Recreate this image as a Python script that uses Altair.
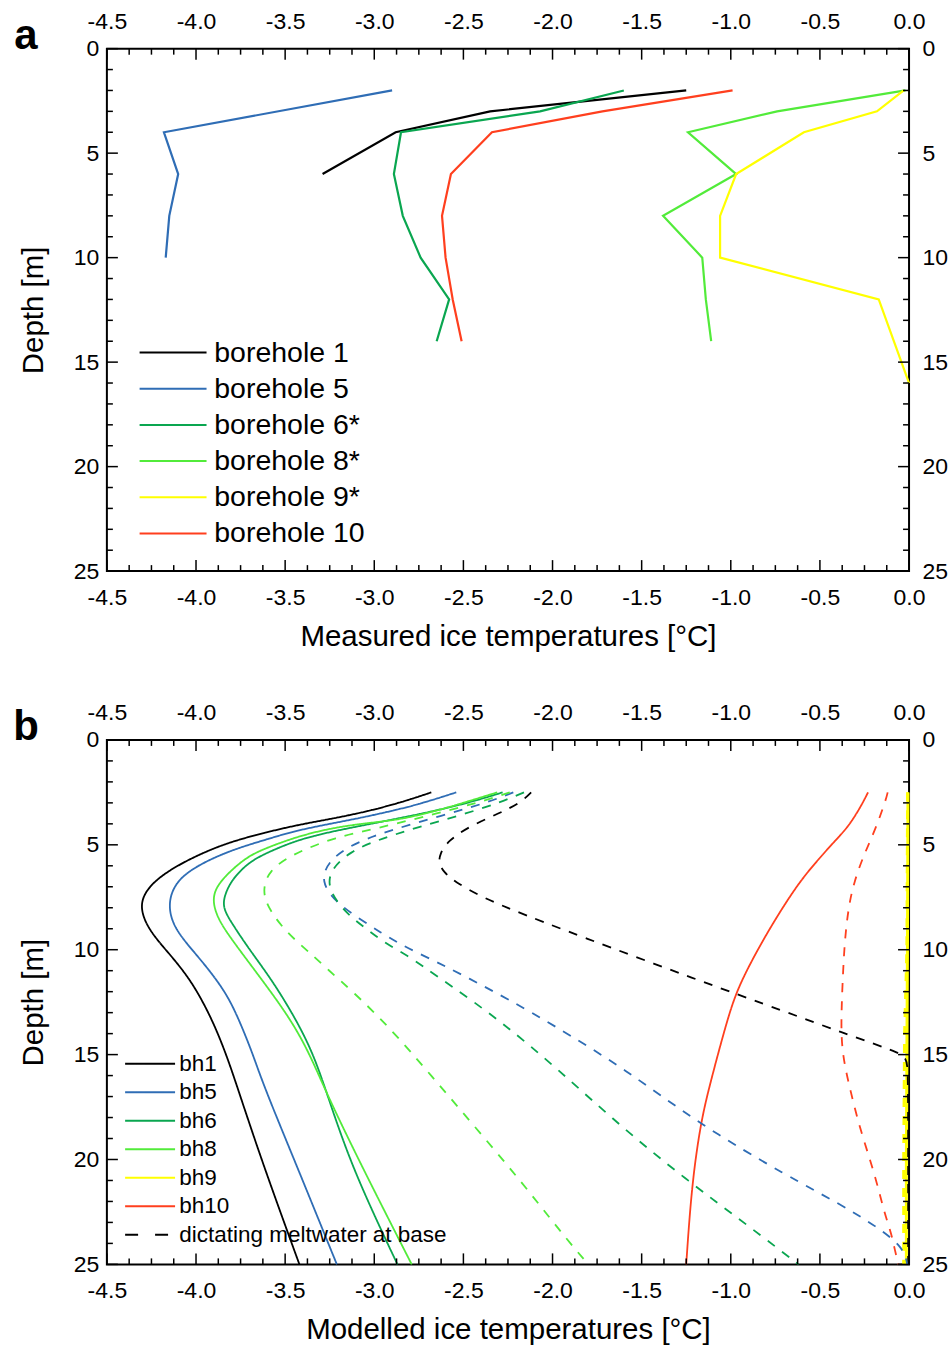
import altair as alt
import pandas as pd

FONT = "Liberation Sans"

# ---------------- panel a : measured ice temperatures ----------------
a_series = ["borehole 1", "borehole 5", "borehole 6*", "borehole 8*", "borehole 9*", "borehole 10"]
a_colors = ["#000000", "#2f6db5", "#0aa650", "#52eb3a", "#ffff00", "#ff3f1e"]

a1_depth = [2, 3, 4, 6]
a1_temp = [-1.25, -2.35, -2.88, -3.29]
a5_depth = [2, 4, 6, 8, 10]
a5_temp = [-2.90, -4.18, -4.10, -4.15, -4.17]
a6_depth = [2, 3, 4, 6, 8, 10, 12, 14]
a6_temp = [-1.60, -2.07, -2.85, -2.89, -2.84, -2.74, -2.58, -2.65]
a8_depth = [2, 3, 4, 6, 8, 10, 12, 14]
a8_temp = [-0.02, -0.74, -1.24, -0.97, -1.38, -1.16, -1.14, -1.11]
a9_depth = [2, 3, 4, 6, 8, 10, 12, 16]
a9_temp = [-0.03, -0.18, -0.59, -0.97, -1.06, -1.06, -0.17, 0.0]
a10_depth = [2, 3, 4, 6, 8, 10, 12, 14]
a10_temp = [-0.99, -1.72, -2.34, -2.57, -2.62, -2.60, -2.56, -2.51]

# ---------------- panel b : modelled ice temperatures ----------------
b_series = ["bh1", "bh5", "bh6", "bh8", "bh9", "bh10"]
b_colors = ["#000000", "#2f6db5", "#0aa650", "#52eb3a", "#ffff00", "#ff3f1e"]
meltwater_label = "dictating meltwater at base"

# solid: modelled profiles
b1_depth = [2.5, 2.9, 3.33, 3.7, 4.05, 4.41, 4.84, 5.4, 6.19, 7.0, 7.9, 9.0, 10.0, 11.4, 13.3, 15.0, 16.5, 20.1, 25]
b1_temp = [-2.68, -2.82, -3.0, -3.2, -3.43, -3.61, -3.80, -3.97, -4.15, -4.27, -4.32, -4.27, -4.17, -4.03, -3.91, -3.83, -3.77, -3.63, -3.42]
b5_depth = [2.5, 3.1, 3.5, 3.81, 4.29, 4.76, 5.24, 6.0, 6.8, 7.9, 9.05, 10.3, 11.9, 13.3, 15.0, 16.5, 20.4, 25]
b5_temp = [-2.54, -2.76, -2.96, -3.13, -3.43, -3.61, -3.80, -4.0, -4.12, -4.16, -4.12, -3.99, -3.84, -3.76, -3.68, -3.62, -3.43, -3.21]
b6_depth = [2.5, 3.0, 3.5, 4.05, 4.37, 4.76, 5.4, 5.87, 6.67, 7.4, 8.0, 8.73, 10.0, 11.43, 13.3, 15.0, 17.0, 20.5, 25]
b6_temp = [-2.28, -2.47, -2.72, -3.05, -3.24, -3.43, -3.61, -3.71, -3.80, -3.84, -3.85, -3.80, -3.70, -3.575, -3.44, -3.34, -3.26, -3.12, -2.87]
b8_depth = [2.5, 3.0, 3.4, 3.81, 3.97, 4.2, 4.6, 5.16, 5.56, 6.19, 6.9, 7.6, 8.5, 9.52, 11.43, 13.3, 15.0, 17.0, 20.5, 25]
b8_temp = [-2.31, -2.50, -2.66, -2.86, -3.05, -3.24, -3.43, -3.61, -3.71, -3.80, -3.88, -3.91, -3.88, -3.80, -3.63, -3.47, -3.36, -3.26, -3.06, -2.79]
b9_depth = [2.5, 10, 15, 20, 25]
b9_temp = [-0.006, -0.009, -0.012, -0.015, -0.015]
b10_depth = [2.5, 3.17, 4.13, 4.76, 5.8, 6.83, 8.4, 10.0, 11.8, 13.33, 16.5, 18.3, 21.3, 25]
b10_temp = [-0.23, -0.27, -0.34, -0.41, -0.52, -0.62, -0.74, -0.85, -0.96, -1.02, -1.12, -1.17, -1.22, -1.25]

# dashed: dictating meltwater at base
b1m_depth = [2.5, 3.0, 3.5, 4.13, 4.84, 5.4, 5.86, 6.3, 6.75, 7.38, 8.0, 9.37, 11.4, 13.0, 14.0, 15.0, 15.3, 20, 25]
b1m_temp = [-2.12, -2.18, -2.30, -2.47, -2.59, -2.63, -2.64, -2.61, -2.55, -2.42, -2.26, -1.84, -1.2, -0.68, -0.36, -0.02, -0.005, -0.005, -0.005]
b5m_depth = [2.5, 3.0, 3.6, 4.29, 4.6, 5.08, 5.8, 6.75, 7.7, 8.49, 9.2, 9.76, 10.3, 10.8, 11.27, 12.4, 13.57, 15.7, 18.3, 20.8, 22.06, 23.2, 24.2, 25]
b5m_temp = [-2.22, -2.37, -2.62, -2.90, -3.01, -3.145, -3.26, -3.30, -3.22, -3.09, -2.96, -2.85, -2.72, -2.60, -2.49, -2.24, -2.0, -1.59, -1.18, -0.68, -0.40, -0.18, -0.03, -0.01]
b6m_depth = [2.5, 3.0, 3.6, 4.1, 4.52, 4.84, 5.3, 6.19, 7.14, 8.25, 8.97, 9.68, 10.3, 10.95, 11.6, 13.4, 15.7, 18.4, 20.9, 23.3, 25]
b6m_temp = [-2.16, -2.3, -2.52, -2.73, -2.89, -3.0, -3.13, -3.25, -3.26, -3.16, -3.05, -2.94, -2.81, -2.70, -2.59, -2.29, -1.97, -1.62, -1.26, -0.88, -0.62]
b8m_depth = [2.5, 3.0, 3.5, 4.0, 4.37, 4.67, 5.08, 5.48, 6.19, 7.2, 8.1, 9.2, 10.08, 10.95, 12.0, 13.65, 16.0, 18.5, 21.0, 23.5, 25]
b8m_temp = [-2.24, -2.42, -2.65, -2.88, -3.07, -3.22, -3.35, -3.46, -3.59, -3.63, -3.59, -3.49, -3.37, -3.26, -3.12, -2.92, -2.68, -2.43, -2.18, -1.95, -1.80]
b9m_depth = [2.5, 10, 14, 20, 25]
b9m_temp = [-0.008, -0.012, -0.025, -0.03, -0.03]
b10m_depth = [2.5, 2.86, 4.3, 5.4, 6.8, 8.0, 9.5, 11.0, 13.0, 14.8, 16.7, 18.7, 20.6, 22.5, 23.5, 24.3, 25]
b10m_temp = [-0.12, -0.13, -0.19, -0.25, -0.31, -0.34, -0.36, -0.37, -0.38, -0.38, -0.33, -0.27, -0.195, -0.14, -0.10, -0.08, -0.06]

# ---------------- axes ----------------
x_major_ticks = [-4.5, -4.0, -3.5, -3.0, -2.5, -2.0, -1.5, -1.0, -0.5, 0.0]
x_minor_ticks = [-4.375, -4.25, -4.125, -3.875, -3.75, -3.625, -3.375, -3.25, -3.125,
                 -2.875, -2.75, -2.625, -2.375, -2.25, -2.125, -1.875, -1.75, -1.625,
                 -1.375, -1.25, -1.125, -0.875, -0.75, -0.625, -0.375, -0.25, -0.125]
y_major_ticks = [0, 5, 10, 15, 20, 25]
y_minor_ticks = [1, 2, 3, 4, 6, 7, 8, 9, 11, 12, 13, 14, 16, 17, 18, 19, 21, 22, 23, 24]
panel_letters = ["a", "b"]


def long_frame(names, depths, temps, **extra):
    rows = []
    for name, ds, ts in zip(names, depths, temps):
        for d, t in zip(ds, ts):
            row = {"series": name, "depth": d, "temp": t}
            row.update(extra)
            rows.append(row)
    return pd.DataFrame(rows)


df_a = long_frame(a_series,
                  [a1_depth, a5_depth, a6_depth, a8_depth, a9_depth, a10_depth],
                  [a1_temp, a5_temp, a6_temp, a8_temp, a9_temp, a10_temp])
df_bs = long_frame(b_series,
                   [b1_depth, b5_depth, b6_depth, b8_depth, b9_depth, b10_depth],
                   [b1_temp, b5_temp, b6_temp, b8_temp, b9_temp, b10_temp], kind="modelled")
df_bs["key"] = df_bs["series"]
df_bm = long_frame(b_series,
                   [b1m_depth, b5m_depth, b6m_depth, b8m_depth, b9m_depth, b10m_depth],
                   [b1m_temp, b5m_temp, b6m_temp, b8m_temp, b9m_temp, b10m_temp], kind="meltwater")
df_bm["key"] = meltwater_label
df_b = pd.concat([df_bs, df_bm], ignore_index=True)

W = 803
HA = 523
HB = 525

xs = alt.Scale(domain=[-4.5, 0.0], nice=False, zero=False)
ys = alt.Scale(domain=[0, 25], reverse=True, nice=False, zero=False)

LABEL_EXPR = "replace(format(datum.value, '.1f'), '\u2212', '-')"


def x_axis(orient, title=None):
    return alt.Axis(orient=orient, values=x_major_ticks, labelExpr=LABEL_EXPR, title=title,
                    labelPadding=15, titlePadding=13, labelFlush=False, labelOverlap=False,
                    ticks=False, tickSize=0, domain=False, grid=False)


def y_axis(orient, title=None):
    return alt.Axis(orient=orient, values=y_major_ticks, format="d", title=title,
                    labelPadding=8 if orient == "left" else 13, titlePadding=25,
                    labelFlush=False, labelOverlap=False,
                    ticks=False, tickSize=0, domain=False, grid=False)


def x_ticks(values, length, H, side, axis=None):
    src = pd.DataFrame({"v": values})
    y0, y1 = (0, length) if side == "top" else (H, H - length)
    return alt.Chart(src).mark_rule(color="black", strokeWidth=1.5).encode(
        x=alt.X("v:Q", scale=xs, axis=axis), y=alt.value(y0), y2=alt.value(y1))


def y_ticks(values, length, side, axis=None):
    src = pd.DataFrame({"v": values})
    x0, x1 = (0, length) if side == "left" else (W, W - length)
    return alt.Chart(src).mark_rule(color="black", strokeWidth=1.5).encode(
        y=alt.Y("v:Q", scale=ys, axis=axis), x=alt.value(x0), x2=alt.value(x1))


def letter_layer(letter):
    return alt.Chart(pd.DataFrame({"t": [letter]})).mark_text(
        font=FONT, fontSize=42, fontWeight="bold", align="center", baseline="alphabetic",
        color="black").encode(text="t:N", x=alt.value(-81), y=alt.value(0))


def frame_layers(H, letter):
    return [
        x_ticks(x_major_ticks, 11, H, "top", axis=x_axis("top")),
        x_ticks(x_minor_ticks, 6, H, "top"),
        x_ticks(x_major_ticks, 11, H, "bottom"),
        x_ticks(x_minor_ticks, 6, H, "bottom"),
        y_ticks(y_major_ticks, 11, "left"),
        y_ticks(y_minor_ticks, 6, "left"),
        y_ticks(y_major_ticks, 11, "right", axis=y_axis("right")),
        y_ticks(y_minor_ticks, 6, "right"),
        letter_layer(letter),
    ]


# ---------------- panel a ----------------
legend_a = alt.Legend(title=None, orient="none", legendX=52, legendY=290,
                      symbolType="M-3,0H3", symbolSize=499, symbolStrokeWidth=2,
                      labelFont=FONT, labelFontSize=28.5, labelColor="black",
                      labelOffset=27, rowPadding=7.2, padding=0, labelLimit=400)

lines_a = alt.Chart(df_a).mark_line(strokeWidth=2.2).encode(
    x=alt.X("temp:Q", scale=xs, axis=x_axis("bottom", "Measured ice temperatures [°C]")),
    y=alt.Y("depth:Q", scale=ys, axis=y_axis("left", "Depth [m]")),
    color=alt.Color("series:N", scale=alt.Scale(domain=a_series, range=a_colors), legend=legend_a),
    order=alt.Order("depth:Q"),
)

panel_a = alt.layer(lines_a, *frame_layers(HA, panel_letters[0])).properties(
    width=W, height=HA).resolve_axis(x="independent", y="independent")

# ---------------- panel b ----------------
b_entries = b_series + [meltwater_label]
b_entry_colors = b_colors + ["#000000"]
b_entry_dashes = [[1, 0]] * 6 + [[13, 17]]

legend_b = alt.Legend(title=None, orient="none", legendX=32, legendY=313,
                      symbolType="M-2.5,0H2.5", symbolSize=400, symbolStrokeWidth=2,
                      labelFont=FONT, labelFontSize=22.5, labelColor="black",
                      labelOffset=18, rowPadding=5.5, padding=0, labelLimit=500)

color_b = alt.Color("series:N", scale=alt.Scale(domain=b_series, range=b_colors), legend=None)
dash_b = alt.StrokeDash("kind:N", scale=alt.Scale(domain=["modelled", "meltwater"], range=[[1, 0], [9, 9]]),
                        legend=None)

lines_b = alt.Chart(df_b).transform_filter(alt.datum.series != "bh9").mark_line(
    strokeWidth=1.8, interpolate="basis").encode(
    x=alt.X("temp:Q", scale=xs, axis=x_axis("bottom", "Modelled ice temperatures [°C]")),
    y=alt.Y("depth:Q", scale=ys, axis=y_axis("left", "Depth [m]")),
    color=color_b, strokeDash=dash_b, order=alt.Order("depth:Q"),
)

yellow_b = alt.Chart(df_b).transform_filter(alt.datum.series == "bh9").mark_line(
    strokeWidth=3).encode(
    x=alt.X("temp:Q", scale=xs, axis=None),
    y=alt.Y("depth:Q", scale=ys, axis=None),
    color=color_b, strokeDash=dash_b, order=alt.Order("depth:Q"),
)

legend_b_layer = alt.Chart(df_b).transform_aggregate(
    t="min(temp)", d="min(depth)", groupby=["key"]).mark_line().encode(
    x=alt.X("t:Q", scale=xs, axis=None),
    y=alt.Y("d:Q", scale=ys, axis=None),
    color=alt.Color("key:N", scale=alt.Scale(domain=b_entries, range=b_entry_colors), legend=legend_b),
    strokeDash=alt.StrokeDash("key:N", scale=alt.Scale(domain=b_entries, range=b_entry_dashes), legend=legend_b),
)

panel_b = alt.layer(yellow_b, lines_b, legend_b_layer, *frame_layers(HB, panel_letters[1])).properties(
    width=W, height=HB).resolve_axis(x="independent", y="independent").resolve_scale(
    color="independent", strokeDash="independent")

chart = alt.vconcat(panel_a, panel_b, spacing=49).resolve_scale(
    color="independent", strokeDash="independent").properties(
    padding={"left": 12, "top": 9, "right": 2, "bottom": 2}, background="white"
).configure_axis(
    labelFont=FONT, labelFontSize=23, labelColor="black",
    titleFont=FONT, titleFontSize=29.5, titleFontWeight="normal", titleColor="black"
).configure_view(stroke="black", strokeWidth=2)

chart.save("out.html", embed_options={"renderer": "svg", "actions": False})
